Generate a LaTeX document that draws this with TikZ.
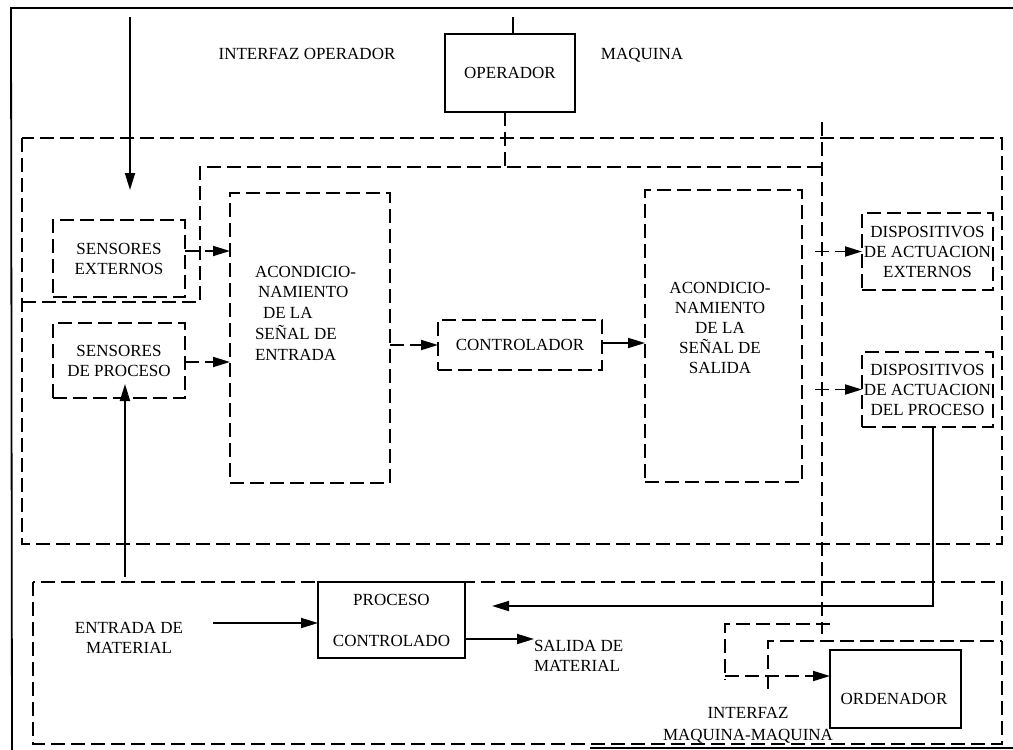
\documentclass[tikz,border=0pt]{standalone}
\usepackage{fontspec}
\setmainfont{Liberation Serif}
\usetikzlibrary{arrows.meta}
\begin{document}
\begin{tikzpicture}[x=1pt,y=-1pt,
  font=\fontsize{17}{20}\selectfont,
  every node/.style={inner sep=0pt, outer sep=0pt},
  lw/.style={line width=1.8pt},
  dline/.style={lw, dash pattern=on 14pt off 6pt},
  dbox/.style={draw, dline, rectangle},
  sbox/.style={draw, lw, rectangle},
  arr/.style={lw, -{Triangle[length=17pt,width=10pt]}},
  darr/.style={dline, -{Triangle[length=17pt,width=10pt]}},
  txt/.style={align=center},
  ltxt/.style={align=left, anchor=west},
]
\useasboundingbox (0,0) rectangle (1013,750);

% outer frame
\draw[lw] (1013,8) -- (11,8) -- (12,750);
\draw[lw] (590,748) -- (1013,748);

% machine zone and operator interface boundary
\draw[dline] (22,138) rectangle (1002,544);
\draw[dline] (22,302) -- (200,302) -- (200,167) -- (822,167);
\draw[dline] (822,122) -- (822,634);

% process zone and machine-machine interface
\draw[dline] (33,582) rectangle (1002,744);
\draw[dline] (768,689) -- (768,641) -- (1002,641);
\draw[dline] (830,624) -- (725,624) -- (725,680);

% blocks
\node[sbox, minimum width=130pt, minimum height=78pt] (oper) at (510,73) {OPERADOR};

\node[dbox, minimum width=132pt, minimum height=77pt, txt] (sext) at (119,258.5) {SENSORES\\EXTERNOS};
\node[dbox, minimum width=132pt, minimum height=75pt, txt] (sproc) at (119,360.5) {SENSORES\\DE PROCESO};

\node[dbox, minimum width=160pt, minimum height=290pt] (acent) at (310,338) {};
\node[ltxt, font=\fontsize{17}{20.7}\selectfont] (acentT) at (255,313)
  {ACONDICIO-\\\hspace*{3pt}NAMIENTO\\\hspace*{8pt}DE LA\\SEÑAL DE\\ENTRADA};

\node[dbox, minimum width=164pt, minimum height=50pt] (ctrl) at (520,345) {CONTROLADOR};

\node[dbox, minimum width=157pt, minimum height=292pt] (acsal) at (723.5,336) {};
\node[txt] (acsalT) at (720,328)
  {ACONDICIO-\\NAMIENTO\\DE LA\\SEÑAL DE\\SALIDA};

\node[dbox, minimum width=131pt, minimum height=77pt, txt] (dispE) at (927.5,251.5)
  {DISPOSITIVOS\\DE ACTUACION\\EXTERNOS};
\node[dbox, minimum width=131pt, minimum height=75pt, txt] (dispP) at (927.5,389.5)
  {DISPOSITIVOS\\DE ACTUACION\\DEL PROCESO};

\node[sbox, minimum width=147pt, minimum height=76pt, txt] (proc) at (391.5,620)
  {PROCESO\\[21pt]CONTROLADO};

\node[sbox, minimum width=131pt, minimum height=78pt] (orden) at (895.5,689) {};
\node[txt] (ordenT) at (894,699) {ORDENADOR};

% free labels
\node[txt] (ifop) at (307,54) {INTERFAZ OPERADOR};
\node[txt] (maq) at (642,55) {MAQUINA};
\node[txt] (entT) at (129,638) {ENTRADA DE\\MATERIAL};
\node[ltxt] (salT) at (534,656) {SALIDA DE\\MATERIAL};
\node[txt] (ifmm) at (748,725) {INTERFAZ\\[2pt]MAQUINA-MAQUINA};

% operator links
\draw[lw] ([xshift=3pt]oper.north) -- ++(0,-17);
\draw[dline] ([xshift=-5pt]oper.south) -- ++(0,55);

% signal flow
\coordinate (extin) at (130,17);
\coordinate (extout) at (130,190);
\draw[arr] (extin) -- (extout);

\draw[darr] (sext.east |- 0,251) -- (acent.west |- 0,251);
\draw[darr] (sproc.east |- 0,362) -- (acent.west |- 0,362);
\draw[darr] (acent.east |- ctrl.west) -- (ctrl.west);
\draw[arr] (ctrl.east |- 0,343) -- (acsal.west |- 0,343);
\draw[darr] ([xshift=13pt]acsal.east |- dispE.west) -- (dispE.west);
\draw[darr] ([xshift=13pt]acsal.east |- dispP.west) -- (dispP.west);

% process loop
\coordinate (fbend) at (492,606);
\draw[arr] ([xshift=5.5pt]dispP.south) |- (fbend);
\coordinate (procin) at (125,577);
\draw[arr] (procin) -- ([xshift=6pt,yshift=14pt]sproc.south);
\coordinate (matin) at (213,623);
\draw[arr] (matin) -- (proc.west |- matin);
\draw[arr] (proc.east |- 0,639) -- (salT.west |- 0,639);

% machine-machine link
\coordinate (ordin) at (725,676);
\draw[darr] (ordin) -- (orden.west |- ordin);
\end{tikzpicture}
\end{document}
